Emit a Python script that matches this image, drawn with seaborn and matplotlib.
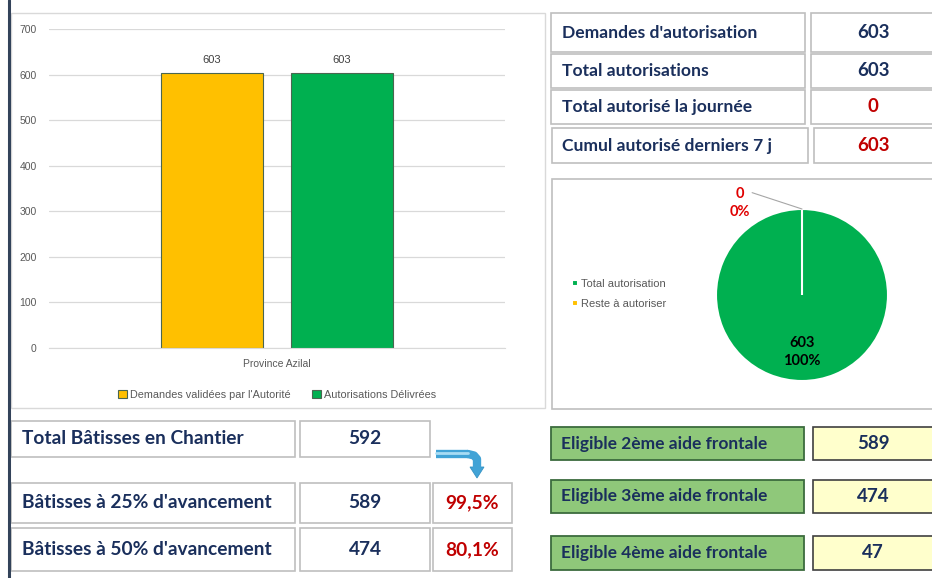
import matplotlib
matplotlib.use('Agg')
import pandas as pd
import matplotlib.pyplot as plt
import seaborn as sns
from matplotlib.patches import Rectangle, Polygon
from matplotlib.lines import Line2D

# ---- data ----
province = ['Province Azilal']
series_names = ["Demandes validées par l'Autorité", 'Autorisations Délivrées']
series_values = [603, 603]
bar_colors = ['#FFC000', '#00B050']

kpi_labels = ["Demandes d'autorisation", 'Total autorisations',
              'Total autorisé la journée', 'Cumul autorisé derniers 7 j']
kpi_values = [603, 603, 0, 603]

pie_labels = ['Total autorisation', 'Reste à autoriser']
pie_values = [603, 0]
pie_colors = ['#00B050', '#FFC000']

chantier_labels = ['Total Bâtisses en Chantier', "Bâtisses à 25% d'avancement",
                   "Bâtisses à 50% d'avancement"]
chantier_values = [592, 589, 474]

aide_labels = ['Eligible 2ème aide frontale', 'Eligible 3ème aide frontale',
               'Eligible 4ème aide frontale']
aide_values = [589, 474, 47]

NAVY = '#1a2f5c'
RED = '#C00000'
GRID = '#d9d9d9'
BOX = '#bfbfbf'
BOLD = ['Lato', 'DejaVu Sans']
CHART = ['Liberation Sans Narrow', 'Liberation Sans', 'DejaVu Sans']

sns.set_style('white')
plt.rcParams['font.family'] = CHART

W, H = 932, 578
fig = plt.figure(figsize=(W / 100, H / 100), dpi=100)


def px_axes(x, y, w, h):
    return fig.add_axes([x / W, 1 - (y + h) / H, w / W, h / H])


# background layer in pixel coordinates
bg = px_axes(0, 0, W, H)
bg.set_xlim(0, W)
bg.set_ylim(H, 0)
bg.axis('off')


def box(x0, y0, x1, y1, fc='white', ec=BOX, lw=1.2):
    bg.add_patch(Rectangle((x0, y0), x1 - x0, y1 - y0, facecolor=fc,
                           edgecolor=ec, linewidth=lw, clip_on=False))


# left dark border + panel borders
bg.plot([9, 9], [0, H], color='#33435a', lw=2.2)
box(11, 13, 545, 408, ec=GRID, lw=1)
box(552, 179, 945, 409, ec=BOX, lw=1.2)

# ---- bar chart ----
df = pd.DataFrame({'province': province * len(series_names),
                   'serie': series_names, 'valeur': series_values})
ax = px_axes(49, 29, 456, 319)
ax.set_facecolor('none')
sns.barplot(data=df, x='province', y='valeur', hue='serie', palette=bar_colors,
            saturation=1, gap=0.215, edgecolor='#4a6650', linewidth=0.8, ax=ax)
ax.set_xlim(-0.7015, 0.7015)
ax.set_ylim(0, 700)
ax.set_yticks(range(0, 701, 100))
ax.yaxis.grid(True, color=GRID, lw=0.9)
ax.set_axisbelow(True)
for s in ['left', 'right', 'top']:
    ax.spines[s].set_visible(False)
ax.spines['bottom'].set_color(GRID)
ax.tick_params(axis='both', length=0, labelsize=7.5, labelcolor='#595959')
ax.tick_params(axis='y', pad=9)
ax.tick_params(axis='x', pad=8)
ax.set_xlabel('')
ax.set_ylabel('')
for c in ax.containers:
    ax.bar_label(c, fontsize=8, color='#404040', padding=6)
sns.move_legend(ax, 'upper center', bbox_to_anchor=(0.5, -0.1), ncol=2,
                frameon=False, title=None, fontsize=7.8, handlelength=0.8,
                handleheight=0.8, handletextpad=0.3, columnspacing=2.0)
for t in ax.get_legend().get_texts():
    t.set_color('#595959')

# ---- KPI table top right ----
rows_y = [(13, 52), (54, 88), (90, 124), (128, 163)]
for (y0, y1), lab, val, i in zip(rows_y, kpi_labels, kpi_values, range(4)):
    xs = 551 if i < 3 else 552
    xe = 805 if i < 3 else 808
    box(xs, y0, xe, y1)
    box(xe + 6, y0, 945, y1)
    bg.text(562, (y0 + y1) / 2, lab, family=BOLD, weight='bold', fontsize=12.6,
            color=NAVY, va='center', ha='left')
    bg.text(873, (y0 + y1) / 2, str(val), family=BOLD, weight='bold', fontsize=13.5,
            color=NAVY if i < 2 else RED, va='center', ha='center')

# ---- pie ----
R = 86
pax = px_axes(802 - R, 295 - R, 2 * R, 2 * R)
wedges, _ = pax.pie(pie_values, colors=pie_colors, startangle=90, counterclock=False,
                    wedgeprops=dict(edgecolor='white', linewidth=1.5))
pax.set_xlim(-1, 1)
pax.set_ylim(-1, 1)
total = sum(pie_values)
pax.text(0, -0.66, f'{pie_values[0]}\n{pie_values[0] / total:.0%}', ha='center',
         va='center', family=BOLD, weight='bold', fontsize=10.5, color='black',
         linespacing=1.35)
pax.text(-0.72, 1.07, f'{pie_values[1]}\n{pie_values[1] / total:.0%}', ha='center',
         va='center', family=BOLD, weight='bold', fontsize=10.5, color='#E00000',
         linespacing=1.35, clip_on=False)
pax.add_line(Line2D([-0.58, 0], [1.19, 1.0], color='#a6a6a6', lw=0.8, clip_on=False))
fig.legend(wedges, pie_labels, loc='center left',
           bbox_to_anchor=(562 / W, 1 - 294 / H), frameon=False, fontsize=8,
           handlelength=0.5, handleheight=0.5, handletextpad=0.35, labelspacing=0.9,
           labelcolor='#595959')

# ---- bottom left table ----
brows = [(421, 457), (483, 523), (528, 571)]
for (y0, y1), lab, val, i in zip(brows, chantier_labels, chantier_values, range(3)):
    box(11, y0, 295, y1)
    box(300, y0, 430, y1)
    bg.text(22, (y0 + y1) / 2, lab, family=BOLD, weight='bold', fontsize=13.8,
            color=NAVY, va='center', ha='left')
    bg.text(365, (y0 + y1) / 2, str(val), family=BOLD, weight='bold', fontsize=13.8,
            color=NAVY, va='center', ha='center')
    if i > 0:
        box(433, y0, 512, y1)
        pct = f'{val / chantier_values[0] * 100:.1f}%'.replace('.', ',')
        bg.text(472, (y0 + y1) / 2, pct, family=BOLD, weight='bold', fontsize=13.8,
                color=RED, va='center', ha='center')

# curved arrow
bg.plot([436, 468], [454, 454], color='#41a3d6', lw=6, solid_capstyle='butt')
bg.plot([468, 474, 477, 477], [454, 455.5, 459, 467], color='#41a3d6', lw=6,
        solid_joinstyle='round')
bg.plot([436, 468], [452.5, 452.5], color='#a8dcf4', lw=2)
bg.add_patch(Polygon([[470, 467], [484, 467], [477, 478]], closed=True,
                     facecolor='#41a3d6', edgecolor='#3592c4', lw=0.6))

# ---- bottom right ----
arows = [(427, 460), (480, 513), (536, 570)]
for (y0, y1), lab, val in zip(arows, aide_labels, aide_values):
    box(551, y0, 804, y1, fc='#8fc87a', ec='#3b6b3e', lw=1.3)
    box(813, y0, 945, y1, fc='#ffffcc', ec='#404040', lw=1.2)
    bg.text(561, (y0 + y1) / 2, lab, family=BOLD, weight='bold', fontsize=12.5,
            color=NAVY, va='center', ha='left')
    bg.text(873, (y0 + y1) / 2, str(val), family=BOLD, weight='bold', fontsize=13.5,
            color=NAVY, va='center', ha='center')

fig.savefig('out.png', dpi=100)
